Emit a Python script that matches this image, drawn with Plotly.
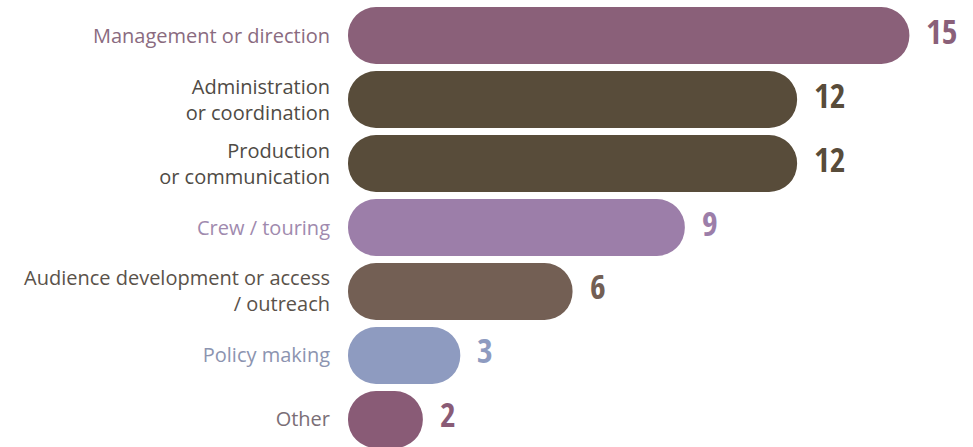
import plotly.graph_objects as go

# Roles and how many respondents reported each one
categories = [
    "Management or direction",
    "Administration<br>or coordination",
    "Production<br>or communication",
    "Crew / touring",
    "Audience development or access<br>/ outreach",
    "Policy making",
    "Other",
]
values = [15, 12, 12, 9, 6, 3, 2]
bar_colors = ["#8a6079", "#584c3a", "#584c3a", "#9c7ea9", "#735f54", "#8e9bc0", "#895b76"]
label_colors = ["#8a6b80", "#4f4b45", "#4f4b45", "#a08aae", "#5a524a", "#8c94b0", "#7a6e76"]

tick_text = [f'<span style="color:{c}">{t}</span>' for t, c in zip(categories, label_colors)]

ids = list(range(len(categories)))

fig = go.Figure()
# pill-shaped bars: with an explicit base both ends get rounded
fig.add_trace(go.Bar(
    y=ids, x=values, base=[0] * len(values),
    orientation="h", width=0.89,
    marker=dict(color=bar_colors, cornerradius="50%", line=dict(width=0)),
    hoverinfo="skip", showlegend=False,
))

for i, (v, c) in enumerate(zip(values, bar_colors)):
    fig.add_annotation(
        x=v, y=i, text=f"<b>{v}</b>", showarrow=False,
        xanchor="left", yanchor="middle", xshift=15, yshift=5,
        font=dict(family="Open Sans Condensed, DejaVu Sans Condensed, sans-serif", size=34, color=c),
    )

fig.update_layout(
    width=973, height=447,
    margin=dict(l=348, r=0, t=0, b=0),
    paper_bgcolor="white", plot_bgcolor="white",
    font=dict(family="Open Sans, DejaVu Sans, sans-serif", size=20),
    xaxis=dict(range=[0, 16.7], visible=False, fixedrange=True),
    yaxis=dict(
        range=[6.43, -0.555], tickmode="array", tickvals=ids, ticktext=tick_text,
        showgrid=False, zeroline=False, showline=False, ticks="", ticklabelstandoff=17,
        tickfont=dict(size=20), fixedrange=True,
    ),
)

fig.write_html("out.html")
